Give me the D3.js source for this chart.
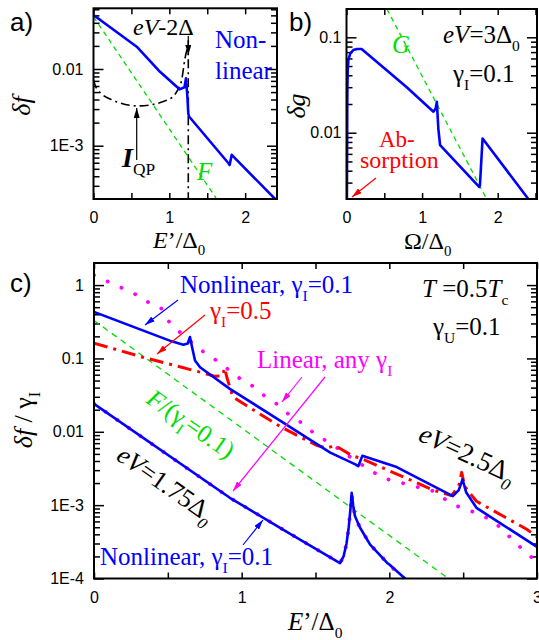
<!DOCTYPE html>
<html>
<head>
<meta charset="utf-8">
<script src="https://cdn.jsdelivr.net/npm/d3@7"></script>
<style>
  body { margin: 0; background: #fff; }
</style>
</head>
<body>
<div id="viz_container"></div>
<script>
// ---- data: [x, y] pairs ----
// panel a: delta f vs E'/Delta0
const aNonlinear = [[0, 0.0506], [0.57, 0.0195], [0.877, 0.0092], [1.135, 0.00543], [1.2, 0.00577], [1.22, 0.00757],
  [1.238, 0.00435], [1.25, 0.00264], [1.26, 0.0024], [1.78, 0.00059], [1.795, 0.00056], [1.823, 0.00076], [2.395, 0.000202]];
const aF = [[0, 0.048], [1.625, 0.000202]];
const aIqp = [[0, 0.0072], [0.04, 0.0056], [0.26, 0.0039], [0.59, 0.0033], [0.966, 0.0039], [1.1, 0.0051],
  [1.163, 0.0072], [1.207, 0.0138], [1.238, 0.0186]];
const aGapPos = 1.25;

// panel b: delta g vs Omega/Delta0
const bNonlinear = [[0.005, 0.0019], [0.008, 0.006], [0.01, 0.018], [0.012, 0.03], [0.016, 0.045], [0.025, 0.058],
  [0.05, 0.068], [0.09, 0.0736], [0.14, 0.0755], [0.2, 0.0754], [0.797, 0.030], [1.15, 0.0166], [1.18, 0.018],
  [1.195, 0.0211], [1.215, 0.011], [1.238, 0.0074], [1.755, 0.0027], [1.765, 0.0028], [1.80, 0.0087], [2.41, 0.002]];
const bG = [[0.535, 0.198], [1.857, 0.002]];

// panel c: delta f / gamma_I vs E'/Delta0
const cNonlinear25 = [[0, 0.43], [0.526, 0.171], [0.605, 0.154], [0.635, 0.16], [0.65, 0.196], [0.665, 0.14],
  [0.684, 0.094], [0.718, 0.076], [0.92, 0.0385], [1.26, 0.0142], [1.51, 0.0068], [1.6, 0.0052], [1.77, 0.0036],
  [1.79, 0.0034], [1.817, 0.0047], [2.05, 0.0033], [2.43, 0.00133], [2.47, 0.0016], [2.496, 0.00225],
  [2.52, 0.0015], [2.59, 0.00092], [3.0, 0.00027]];
const cGamma05 = [[0, 0.162], [0.33, 0.104], [0.72, 0.065], [0.82, 0.057], [0.87, 0.058], [0.885, 0.074],
  [0.9, 0.055], [0.94, 0.030], [1.0, 0.025], [1.26, 0.0118], [1.51, 0.0065], [1.58, 0.006], [1.62, 0.0064],
  [1.655, 0.0061], [1.75, 0.0047], [1.8, 0.0044], [1.9, 0.0036], [2.1, 0.0024], [2.3, 0.0016], [2.42, 0.00135],
  [2.47, 0.0018], [2.49, 0.0028], [2.51, 0.0018], [2.59, 0.00113], [2.93, 0.00047], [3.0, 0.00037]];
const cLinear25 = [[0, 1.37], [0.1, 1.1], [0.27, 0.77], [0.37, 0.58], [0.45, 0.5], [0.515, 0.30], [0.684, 0.15],
  [0.774, 0.11], [0.865, 0.085], [0.955, 0.058], [1.056, 0.045], [1.135, 0.033], [1.237, 0.024], [1.316, 0.0175],
  [1.417, 0.0128], [1.496, 0.0093], [1.61, 0.0068], [1.69, 0.0052], [1.88, 0.0029], [1.97, 0.0023],
  [2.30, 0.00155], [2.36, 0.00126], [2.46, 0.00097], [2.55, 0.00084], [2.70, 0.00062], [2.93, 0.00022], [3.0, 0.00017]];
const cF = [[0, 0.33], [2.40, 0.0001]];
const cNonlinear175 = [[0, 0.024], [0.92, 0.00126], [1.3, 0.00044], [1.666, 0.000162], [1.69, 0.0002],
  [1.71, 0.0003], [1.725, 0.0005], [1.737, 0.0009], [1.745, 0.00147], [1.755, 0.001], [1.767, 0.00071],
  [1.8, 0.0005], [1.87, 0.00029], [1.99, 0.00016], [2.0, 0.000155], [2.106, 0.0001], [2.15, 0.00008]];
const cLinear175 = [[0, 0.024], [0.92, 0.00126], [1.3, 0.00044], [1.666, 0.000162], [1.69, 0.0002],
  [1.71, 0.0003], [1.725, 0.0005], [1.737, 0.0009], [1.745, 0.0014], [1.755, 0.001], [1.767, 0.0007],
  [1.8, 0.0005], [1.87, 0.00029], [1.99, 0.00016], [2.1, 0.0001]];

// tick labels
const aYTicks = [0.01, 0.001], aYLabels = ["0.01", "1E-3"];
const bYTicks = [0.1, 0.01], bYLabels = ["0.1", "0.01"];
const cYTicks = [1, 0.1, 0.01, 0.001, 0.0001], cYLabels = ["1", "0.1", "0.01", "1E-3", "1E-4"];
const abXTicks = [0, 1, 2], cXTicks = [0, 1, 2, 3];

// colours
const BLUE = "#0000ff", GREEN = "#00dd00", RED = "#ff0000", MAG = "#ff00ff";
const SERIF = "Liberation Serif, Times New Roman, serif";
const SANS = "Liberation Sans, Arial, sans-serif";

const svg = d3.select("#viz_container")
  .append("svg")
  .attr("width", 539)
  .attr("height", 640);

// arrow heads
const defs = svg.append("defs");
[["ahB", BLUE], ["ahR", RED], ["ahM", MAG], ["ahK", "#000"]].forEach(([id, c]) => {
  defs.append("marker").attr("id", id)
    .attr("viewBox", "0 0 10 6").attr("refX", 10).attr("refY", 3)
    .attr("markerWidth", 10).attr("markerHeight", 6)
    .attr("markerUnits", "userSpaceOnUse").attr("orient", "auto")
    .append("path").attr("d", "M0,0L10,3L0,6z").attr("fill", c);
});

// one framed log panel with inward ticks on all four sides
function makePanel(box, xDom, yDom, yMajor, yLabels, xMajor, yPad) {
  const g = svg.append("g").attr("transform", `translate(${box.x},${box.y})`);
  const x = d3.scaleLinear().domain(xDom).range([0, box.w]);
  const y = d3.scaleLog().domain(yDom).range([box.h, 0]);

  const clipId = "clip" + Math.round(box.x) + "_" + Math.round(box.y);
  g.append("clipPath").attr("id", clipId)
    .append("rect").attr("width", box.w).attr("height", box.h);

  const xHalf = d3.range(0, xDom[1] + 1e-9, 0.5);
  const yMinor = [];
  for (let e = Math.floor(Math.log10(yDom[0])); e <= Math.ceil(Math.log10(yDom[1])); e++) {
    for (let k = 2; k <= 9; k++) {
      const v = k * Math.pow(10, e);
      if (v > yDom[0] && v < yDom[1]) yMinor.push(v);
    }
  }

  const style = sel => {
    sel.select(".domain").remove();
    sel.attr("font-size", 16).attr("font-family", SANS);
    sel.selectAll("line").attr("stroke-width", 1.5);
    sel.selectAll("text").attr("fill", "#000");
  };

  // x ticks
  g.append("g").attr("transform", `translate(0,${box.h})`)
    .call(d3.axisBottom(x).tickValues(xHalf).tickSize(-6).tickFormat(""))
    .call(style);
  g.append("g").attr("transform", `translate(0,${box.h})`)
    .call(d3.axisBottom(x).tickValues(xMajor).tickSize(0).tickPadding(13).tickFormat(d3.format("d")))
    .call(style);
  g.append("g")
    .call(d3.axisTop(x).tickValues(xHalf).tickSize(-6).tickFormat(""))
    .call(style);

  // y ticks
  g.append("g")
    .call(d3.axisLeft(y).tickValues(yMajor).tickSize(-10).tickPadding(yPad).tickFormat((d, i) => yLabels[i]))
    .call(style);
  g.append("g")
    .call(d3.axisLeft(y).tickValues(yMinor).tickSize(-6).tickFormat(""))
    .call(style);
  g.append("g").attr("transform", `translate(${box.w},0)`)
    .call(d3.axisRight(y).tickValues(yMajor).tickSize(-10).tickFormat(""))
    .call(style);
  g.append("g").attr("transform", `translate(${box.w},0)`)
    .call(d3.axisRight(y).tickValues(yMinor).tickSize(-6).tickFormat(""))
    .call(style);

  const plot = g.append("g").attr("clip-path", `url(#${clipId})`);

  g.append("rect")
    .attr("width", box.w).attr("height", box.h)
    .attr("fill", "none").attr("stroke", "#000").attr("stroke-width", 2);

  const line = d3.line().x(d => x(d[0])).y(d => y(d[1]));
  return { g, plot, x, y, line, box };
}

function drawSeries(p, data, color, width, dash, cap, curve) {
  const gen = curve ? p.line.curve(curve) : p.line.curve(d3.curveLinear);
  p.plot.append("path")
    .datum(data)
    .attr("d", gen)
    .attr("fill", "none")
    .attr("stroke", color)
    .attr("stroke-width", width)
    .attr("stroke-dasharray", dash || null)
    .attr("stroke-linecap", cap || "butt")
    .attr("stroke-linejoin", "round");
}

// rich text: parts are [string, style] with i = italic, b = bold, s = subscript
function label(x, y, parts, opt = {}) {
  const size = opt.size || 25;
  const t = svg.append("text")
    .attr("x", x).attr("y", y)
    .attr("font-family", opt.font || SERIF)
    .attr("font-size", size)
    .attr("fill", opt.color || "#000")
    .attr("text-anchor", opt.anchor || "start");
  if (opt.rotate) t.attr("transform", `rotate(${opt.rotate},${x},${y})`);
  let shift = 0;
  parts.forEach(([s, st]) => {
    st = st || "";
    const sub = st.includes("s");
    const target = sub ? size * 0.3 : 0;
    const ts = t.append("tspan").text(s).attr("dy", target - shift);
    shift = target;
    if (sub) ts.attr("font-size", size * 0.62);
    if (st.includes("i")) ts.attr("font-style", "italic");
    if (st.includes("b")) ts.attr("font-weight", "bold");
  });
  return t;
}

function arrow(x1, y1, x2, y2, color, marker) {
  svg.append("line")
    .attr("x1", x1).attr("y1", y1).attr("x2", x2).attr("y2", y2)
    .attr("stroke", color).attr("stroke-width", 1.2)
    .attr("marker-end", `url(#${marker})`);
}

// ---------------- panel a ----------------
const pa = makePanel({ x: 93.5, y: 8.3, w: 183.5, h: 190.7 }, [0, 2.42], [2.02e-4, 0.0618], aYTicks, aYLabels, abXTicks, 10);
drawSeries(pa, aF, GREEN, 1.3, "5,4");
drawSeries(pa, aIqp, "#000", 1.6, "9,4,2,4", null, d3.curveMonotoneX);
pa.plot.append("line")
  .attr("x1", pa.x(aGapPos)).attr("x2", pa.x(aGapPos))
  .attr("y1", 32).attr("y2", pa.box.h)
  .attr("stroke", "#000").attr("stroke-width", 1.6).attr("stroke-dasharray", "9,4,2,4");
drawSeries(pa, aNonlinear, BLUE, 2.6);
arrow(pa.box.x + pa.x(aGapPos), 36, pa.box.x + pa.x(aGapPos), 55, "#000", "ahK");
arrow(136.7, 160, 136.7, 108, "#000", "ahK");

label(10, 31, [["a)"]], { font: SANS, size: 26 });
label(30, 106, [["δf", "i"]], { rotate: -90, anchor: "middle", size: 26 });
label(153, 248, [["E", "i"], ["’/Δ"], ["0", "s"]], { size: 24 });
label(133, 35, [["eV", "i"], ["-2Δ"]], { size: 24 });
label(215, 48, [["Non-"]], { color: BLUE });
label(215, 79, [["linear"]], { color: BLUE });
label(197, 180, [["F", "i"]], { color: GREEN });
label(122, 167, [["I", "bi"], ["QP", "s"]], { size: 28 });

// ---------------- panel b ----------------
const pb = makePanel({ x: 346.5, y: 9, w: 190.5, h: 190 }, [0, 2.52], [0.00202, 0.198], bYTicks, bYLabels, abXTicks, 5);
drawSeries(pb, bG, GREEN, 1.3, "5,4");
drawSeries(pb, bNonlinear, BLUE, 2.6);
arrow(376, 178, 352, 197, RED, "ahR");

label(289, 31, [["b)"]], { font: SANS, size: 26 });
label(305, 106, [["δg", "i"]], { rotate: -90, anchor: "middle", size: 26 });
label(404, 249, [["Ω/Δ"], ["0", "s"]], { size: 24 });
label(392, 53, [["G", "i"]], { color: GREEN });
label(443, 43, [["eV", "i"], ["=3Δ"], ["0", "s"]]);
label(453, 82, [["γ"], ["I", "s"], ["=0.1"]]);
label(379, 147, [["Ab-"]], { color: RED, size: 23 });
label(360, 168, [["sorption"]], { color: RED, size: 24 });

// ---------------- panel c ----------------
const pc = makePanel({ x: 94, y: 263, w: 443, h: 315.5 }, [0, 3], [1e-4, 2.0], cYTicks, cYLabels, cXTicks, 10);
drawSeries(pc, cF, GREEN, 1.3, "6,5");
drawSeries(pc, cLinear25, MAG, 3.8, "0.1,15", "round");
drawSeries(pc, cLinear175, MAG, 4, "0.1,14", "round");
drawSeries(pc, cGamma05, RED, 3, "14,6,3,6");
drawSeries(pc, cNonlinear25, BLUE, 2.6);
drawSeries(pc, cNonlinear175, BLUE, 2.6);

arrow(178, 300, 145, 325, BLUE, "ahB");
arrow(205, 315, 157, 354, RED, "ahR");
arrow(302, 377, 282, 402, MAG, "ahM");
arrow(325, 377, 233, 491, MAG, "ahM");
arrow(243, 545, 263, 520, BLUE, "ahB");

label(10, 292, [["c)"]], { font: SANS, size: 26 });
label(32, 420, [["δf", "i"], [" / γ"], ["I", "s"]], { rotate: -90, anchor: "middle", size: 26 });
label(288, 630, [["E", "i"], ["’/Δ"], ["0", "s"]], { size: 25 });
label(180, 293, [["Nonlinear, γ"], ["I", "s"], ["=0.1"]], { color: BLUE });
label(210, 319, [["γ"], ["I", "s"], ["=0.5"]], { color: RED });
label(422, 297, [["T", "i"], [" =0.5"], ["T", "i"], ["c", "s"]]);
label(433, 335, [["γ"], ["U", "s"], ["=0.1"]]);
label(257, 368, [["Linear, any γ"], ["I", "s"]], { color: MAG });
label(145, 402, [["F", "i"], ["/(γ"], ["I", "s"], ["=0.1)"]], { color: GREEN, rotate: 35 });
label(115, 459, [["eV", "i"], ["=1.75Δ"], ["0", "si"]], { rotate: 35, size: 26 });
label(417, 440, [["eV", "i"], ["=2.5Δ"], ["0", "si"]], { rotate: 25, size: 27 });
label(100, 565, [["Nonlinear, γ"], ["I", "s"], ["=0.1"]], { color: BLUE });
</script>
</body>
</html>
